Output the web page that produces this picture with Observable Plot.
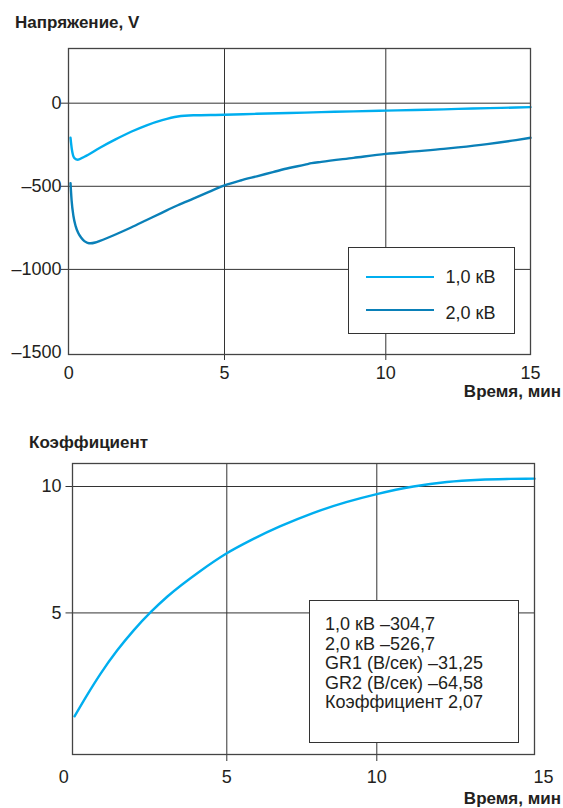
<!DOCTYPE html>
<html>
<head>
<meta charset="utf-8">
<script src="https://cdn.jsdelivr.net/npm/d3@7"></script>
<script src="https://cdn.jsdelivr.net/npm/@observablehq/plot@0.6"></script>
<style>
  html, body { margin: 0; padding: 0; background: #fff; overflow: hidden; }
  #wrap { position: relative; width: 563px; height: 808px; font-family: "Liberation Sans", Arial, Helvetica, sans-serif; color: #231f20; }
  .abs { position: absolute; white-space: nowrap; }
  .bold { font-weight: bold; font-size: 17px; line-height: 17px; }
  .chart { position: absolute; left: 0; }
  #legend1 { left: 347.5px; top: 247px; width: 165.5px; height: 84.5px; border: 1.3px solid #333; background: #fff; }
  #legend1 .sw { position: absolute; left: 17px; width: 68px; height: 2.6px; }
  #legend1 .lab { position: absolute; left: 97px; font-size: 18px; line-height: 20px; }
  #legend2 { left: 309px; top: 600px; width: 207.5px; height: 140.5px; border: 1.3px solid #333; background: #fff; }
  #legend2 .txt { position: absolute; left: 15px; top: 14px; font-size: 18px; line-height: 19.6px; }
</style>
</head>
<body>
<div id="wrap"></div>
<script>
// ---------- data ----------
const XTICKS = [0, 5, 10, 15];
const XGRID = [5, 10];

// top chart: Напряжение, V
const TOP_TITLE = "Напряжение, V";
const X_TITLE = "Время, мин";
const SERIES = ["1,0 кВ", "2,0 кВ"];
const COLORS = ["#00aeef", "#0a80b8"];
const YTICKS_TOP = [0, -500, -1000, -1500];
const YGRID_TOP = [0, -500, -1000];

const T1 = [0.055, 0.1, 0.18, 0.29, 0.5, 1.0, 1.5, 2.0, 2.5, 3.0, 3.5, 4.0, 5.0, 6.0, 7.0, 8.0, 9.0, 10.0, 11.0, 12.0, 13.0, 14.0, 15.0];
const V1 = [-208, -280, -330, -340, -322, -268, -218, -172, -133, -102, -80, -73, -70, -64, -59, -54, -49, -45, -41, -37, -32, -28, -24];

const T2 = [0.055, 0.09, 0.15, 0.22, 0.3, 0.4, 0.5, 0.6, 0.7, 0.85, 1.0, 1.5, 2.0, 2.5, 3.0, 3.5, 4.0, 4.5, 5.0, 5.5, 6.0, 6.5, 7.0, 7.5, 7.7, 8.0, 9.0, 10.0, 11.0, 12.0, 12.5, 13.5, 14.5, 15.0];
const V2 = [-481, -585, -680, -740, -780, -810, -830, -840, -843, -838, -828, -790, -748, -703, -658, -614, -574, -534, -495, -465, -440, -415, -390, -370, -361, -353, -329, -305, -290, -275, -266, -246, -222, -208];

// bottom chart: Коэффициент
const BOTTOM_TITLE = "Коэффициент";
const YTICKS_BOTTOM = [5, 10];
const KT = [0.33, 0.7, 1.13, 1.64, 2.15, 2.68, 3.17, 4.19, 5.0, 5.79, 6.77, 7.87, 8.98, 10.0, 11.1, 12.1, 13.1, 14.0, 14.73];
const KV = [0.91, 1.72, 2.6, 3.52, 4.32, 5.05, 5.64, 6.66, 7.36, 7.87, 8.42, 8.95, 9.38, 9.7, 10.0, 10.18, 10.27, 10.3, 10.31];
const K_COLOR = "#00aeef";
const INFO = ["1,0 кВ –304,7", "2,0 кВ –526,7", "GR1 (В/сек) –31,25", "GR2 (В/сек) –64,58", "Коэффициент 2,07"];

// ---------- build ----------
const fmt = d => d < 0 ? "–" + Math.abs(d) : String(d);
const s1 = T1.map((t, i) => ({t, v: V1[i]}));
const s2 = T2.map((t, i) => ({t, v: V2[i]}));
const sk = KT.map((t, i) => ({t, v: KV[i]}));
const FONT = '"Liberation Sans", Arial, Helvetica, sans-serif';
const wrap = document.getElementById("wrap");

const topPlot = Plot.plot({
  width: 563, height: 400,
  marginLeft: 68, marginRight: 33, marginTop: 48, marginBottom: 46,
  style: {fontFamily: FONT, fontSize: "18px", color: "#231f20", background: "transparent", overflow: "visible"},
  x: {type: "linear", domain: [0, 5, 10, 15], range: [68.3, 224, 385.3, 530], label: null},
  y: {type: "linear", domain: [-1512, 329], label: null},
  marks: [
    Plot.ruleY(YGRID_TOP, {stroke: "#333", strokeWidth: 1, insetLeft: -7}),
    Plot.ruleX(XGRID, {stroke: "#333", strokeWidth: 1, insetBottom: -6}),
    Plot.line(s1, {x: "t", y: "v", stroke: COLORS[0], strokeWidth: 2.4, curve: "monotone-x"}),
    Plot.line(s2, {x: "t", y: "v", stroke: COLORS[1], strokeWidth: 2.4, curve: "monotone-x"}),
    Plot.frame({stroke: "#444", strokeWidth: 1.3}),
    Plot.axisY({ticks: YTICKS_TOP, tickSize: 0, tickPadding: 7, tickFormat: fmt, label: null}),
    Plot.axisX({ticks: XTICKS, tickSize: 0, tickPadding: 12, tickFormat: fmt, label: null})
  ]
});
topPlot.classList.add("chart");
topPlot.style.top = "0px";
wrap.appendChild(topPlot);

const botPlot = Plot.plot({
  width: 563, height: 408,
  marginLeft: 72, marginRight: 29, marginTop: 63, marginBottom: 54,
  style: {fontFamily: FONT, fontSize: "18px", color: "#231f20", background: "transparent", overflow: "visible"},
  x: {type: "linear", domain: [0, 5, 10, 15], range: [63.3, 226.3, 376.3, 543], label: null},
  y: {type: "linear", domain: [-0.6, 10.91], label: null},
  marks: [
    Plot.ruleY(YTICKS_BOTTOM, {stroke: "#333", strokeWidth: 1, insetLeft: -6.5}),
    Plot.ruleX(XGRID, {stroke: "#333", strokeWidth: 1, insetBottom: -7}),
    Plot.line(sk, {x: "t", y: "v", stroke: K_COLOR, strokeWidth: 2.4, curve: "monotone-x"}),
    Plot.frame({stroke: "#444", strokeWidth: 1.3}),
    Plot.axisY({ticks: YTICKS_BOTTOM, tickSize: 0, tickPadding: 11, label: null}),
    Plot.axisX({ticks: XTICKS, tickSize: 0, tickPadding: 16, label: null})
  ]
});
botPlot.classList.add("chart");
botPlot.style.top = "400px";
wrap.appendChild(botPlot);

// ---------- texts ----------
function addText(txt, cls, css) {
  const d = document.createElement("div");
  d.className = "abs " + cls;
  d.textContent = txt;
  Object.assign(d.style, css);
  wrap.appendChild(d);
  return d;
}
addText(TOP_TITLE, "bold", {left: "15px", top: "14px"});
addText(X_TITLE, "bold", {right: "2px", top: "383px"});
addText(BOTTOM_TITLE, "bold", {left: "29px", top: "434px"});
addText(X_TITLE, "bold", {right: "2px", top: "790px"});

// legend top
const lg1 = document.createElement("div");
lg1.id = "legend1"; lg1.className = "abs";
const rowsY = [29, 62];
const labY = [30, 65.5];
SERIES.forEach((name, i) => {
  const sw = document.createElement("div");
  sw.className = "sw";
  sw.style.top = (rowsY[i] - 1.3) + "px";
  sw.style.background = COLORS[i];
  lg1.appendChild(sw);
  const lab = document.createElement("div");
  lab.className = "lab";
  lab.style.top = (labY[i] - 11) + "px";
  lab.textContent = name;
  lg1.appendChild(lab);
});
wrap.appendChild(lg1);

// info box bottom
const lg2 = document.createElement("div");
lg2.id = "legend2"; lg2.className = "abs";
const txt = document.createElement("div");
txt.className = "txt";
INFO.forEach(line => {
  const l = document.createElement("div");
  l.textContent = line;
  txt.appendChild(l);
});
lg2.appendChild(txt);
wrap.appendChild(lg2);
</script>
</body>
</html>
